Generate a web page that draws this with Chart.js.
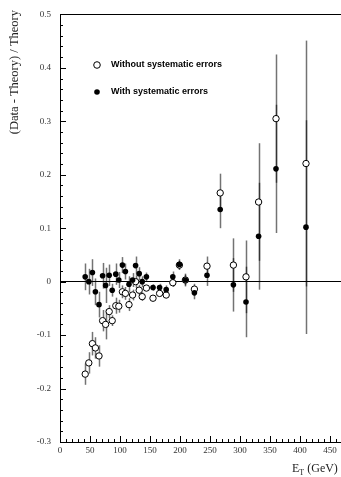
<!DOCTYPE html>
<html>
<head>
<meta charset="utf-8">
<script src="https://cdn.jsdelivr.net/npm/chart.js@4"></script>
<style>
  html, body { margin: 0; padding: 0; background: #fff; overflow: hidden; }
  #wrap { width: 350px; height: 477px; }
</style>
</head>
<body>
<div id="wrap"><canvas id="ratioChart" width="350" height="477"></canvas></div>
<script>
// E_T bin centres (GeV)
const energies = [42, 48, 54, 59, 65, 71, 76, 82, 87, 93, 98, 104, 109, 115, 121, 126, 132, 137,
    144, 155, 166, 177, 188, 199, 209, 224, 245, 267, 289, 310, 331, 360, 410];

// (Data - Theory) / Theory, statistical errors only (open circles)
const withoutSyst = [-0.173, -0.152, -0.116, -0.124, -0.139, -0.073, -0.080, -0.056, -0.073, -0.045,
    -0.046, -0.019, -0.022, -0.043, -0.025, 0.000, -0.016, -0.028, -0.012, -0.031, -0.022, -0.025,
    -0.002, 0.031, 0.003, -0.014, 0.029, 0.166, 0.031, 0.009, 0.149, 0.305, 0.221];
const withoutSystErr = [0.020, 0.020, 0.022, 0.020, 0.020, 0.020, 0.028, 0.012, 0.010, 0.015,
    0.012, 0.012, 0.012, 0.012, 0.010, 0.012, 0.010, 0.008, 0.005, 0.005, 0.005, 0.006,
    0.008, 0.008, 0.010, 0.010, 0.018, 0.036, 0.050, 0.068, 0.110, 0.120, 0.230];

// with systematic errors (filled circles)
const withSyst = [0.009, 0.000, 0.017, -0.019, -0.043, 0.011, -0.007, 0.012, -0.016, 0.014,
    0.003, 0.031, 0.019, -0.005, 0.003, 0.030, 0.015, 0.000, 0.009, -0.011, -0.011, -0.015,
    0.009, 0.032, 0.003, -0.021, 0.012, 0.135, -0.006, -0.038, 0.085, 0.211, 0.102];
const withSystErr = [0.025, 0.024, 0.025, 0.025, 0.024, 0.024, 0.033, 0.020, 0.012, 0.020,
    0.015, 0.015, 0.015, 0.015, 0.013, 0.017, 0.012, 0.010, 0.008, 0.006, 0.007, 0.008,
    0.010, 0.010, 0.012, 0.012, 0.020, 0.035, 0.050, 0.066, 0.100, 0.120, 0.200];

// axis ticks
const xTickValues = [0, 50, 100, 150, 200, 250, 300, 350, 400, 450];
const yTickValues = [-0.3, -0.2, -0.1, 0, 0.1, 0.2, 0.3, 0.4, 0.5];

const serif = '"Liberation Serif", "DejaVu Serif", serif';

function points(ys) {
    return energies.map((e, i) => ({ x: e, y: ys[i] }));
}

// error bars, minor/major inward ticks, frame, legend and axis titles
const decorations = {
    id: 'decorations',
    beforeDatasetsDraw(chart) {
        const ctx = chart.ctx;
        const xs = chart.scales.x, ys = chart.scales.y;
        ctx.save();
        ctx.lineWidth = 1.5;
        ctx.strokeStyle = 'rgba(0, 0, 0, 0.55)';
        [[withoutSyst, withoutSystErr], [withSyst, withSystErr]].forEach(([vals, errs]) => {
            energies.forEach((e, i) => {
                const px = Math.round(xs.getPixelForValue(e)) + 0.5;
                ctx.beginPath();
                ctx.moveTo(px, ys.getPixelForValue(vals[i] + errs[i]));
                ctx.lineTo(px, ys.getPixelForValue(vals[i] - errs[i]));
                ctx.stroke();
            });
        });
        ctx.restore();
    },
    afterDraw(chart) {
        const ctx = chart.ctx;
        const a = chart.chartArea;
        const xs = chart.scales.x, ys = chart.scales.y;
        ctx.save();
        ctx.strokeStyle = '#000';
        ctx.lineWidth = 1;
        ctx.strokeRect(Math.round(a.left) + 0.5, Math.round(a.top) + 0.5,
            Math.round(a.right - a.left), Math.round(a.bottom - a.top));

        // y ticks (every 0.02, major every 0.1)
        for (let k = -15; k <= 25; k++) {
            const py = Math.round(ys.getPixelForValue(k * 0.02)) + 0.5;
            const len = k % 5 === 0 ? 6 : 3;
            ctx.beginPath();
            ctx.moveTo(a.left, py);
            ctx.lineTo(a.left + len, py);
            ctx.stroke();
        }
        // x ticks (every 10, major every 50)
        for (let v = 0; v <= 460; v += 10) {
            const px = Math.round(xs.getPixelForValue(v)) + 0.5;
            const len = v % 50 === 0 ? 6 : 3;
            ctx.beginPath();
            ctx.moveTo(px, a.bottom);
            ctx.lineTo(px, a.bottom - len);
            ctx.stroke();
        }

        // legend
        ctx.fillStyle = '#fff';
        ctx.beginPath();
        ctx.arc(97, 65, 3.3, 0, Math.PI * 2);
        ctx.fill();
        ctx.stroke();
        ctx.fillStyle = '#000';
        ctx.beginPath();
        ctx.arc(97, 92, 2.8, 0, Math.PI * 2);
        ctx.fill();
        ctx.font = 'bold 9px "Liberation Sans", Arial, sans-serif';
        ctx.textBaseline = 'middle';
        ctx.textAlign = 'left';
        ctx.fillText('Without systematic errors', 111, 65);
        ctx.fillText('With systematic errors', 111, 92);

        // y title
        ctx.fillStyle = '#222';
        ctx.font = '12.5px ' + serif;
        ctx.save();
        ctx.translate(15, 10);
        ctx.rotate(-Math.PI / 2);
        ctx.textAlign = 'right';
        ctx.textBaseline = 'middle';
        ctx.fillText('(Data - Theory) / Theory', 0, 0);
        ctx.restore();

        // x title E_T (GeV)
        ctx.textAlign = 'left';
        ctx.textBaseline = 'alphabetic';
        ctx.font = '12px ' + serif;
        ctx.fillText('E', 292, 472);
        const eW = ctx.measureText('E').width;
        ctx.font = '8px ' + serif;
        ctx.fillText('T', 292 + eW, 475);
        const tW = ctx.measureText('T').width;
        ctx.font = '12px ' + serif;
        ctx.fillText(' (GeV)', 292 + eW + tW, 472);
        ctx.restore();
    }
};

const ctx = document.getElementById('ratioChart').getContext('2d');
window.ratioChart = new Chart(ctx, {
    type: 'scatter',
    data: {
        datasets: [
            {
                label: 'With systematic errors',
                data: points(withSyst),
                pointStyle: 'circle',
                pointRadius: 2.8,
                pointBackgroundColor: '#000',
                pointBorderColor: '#000',
                pointBorderWidth: 0
            },
            {
                label: 'Without systematic errors',
                data: points(withoutSyst),
                pointStyle: 'circle',
                pointRadius: 3.2,
                pointBackgroundColor: '#fff',
                pointBorderColor: '#000',
                pointBorderWidth: 1
            }
        ]
    },
    options: {
        responsive: false,
        animation: false,
        devicePixelRatio: 1,
        layout: { padding: { top: 10, right: 8, bottom: 0, left: 0 } },
        plugins: {
            legend: { display: false },
            tooltip: { enabled: false }
        },
        scales: {
            x: {
                type: 'linear',
                min: 0,
                max: 470,
                afterBuildTicks: scale => {
                    scale.ticks = xTickValues.map(v => ({ value: v }));
                },
                afterFit: scale => { scale.height = 35; },
                grid: { display: false, drawTicks: false },
                border: { display: false },
                ticks: {
                    padding: 3,
                    color: '#333',
                    font: { family: serif, size: 9 },
                    maxRotation: 0,
                    callback: v => String(v)
                }
            },
            y: {
                type: 'linear',
                min: -0.3,
                max: 0.5,
                afterBuildTicks: scale => {
                    scale.ticks = yTickValues.map(v => ({ value: v }));
                },
                afterFit: scale => { scale.width = 60; },
                grid: {
                    drawTicks: false,
                    color: c => (c.tick && Math.abs(c.tick.value) < 1e-9 ? '#000' : 'rgba(0,0,0,0)'),
                    lineWidth: 1
                },
                border: { display: false },
                ticks: {
                    padding: 9,
                    color: '#333',
                    font: { family: serif, size: 9 },
                    callback: v => (Math.abs(v) < 1e-9 ? '0' : (+v.toFixed(1)).toString())
                }
            }
        }
    },
    plugins: [decorations]
});
</script>
</body>
</html>
